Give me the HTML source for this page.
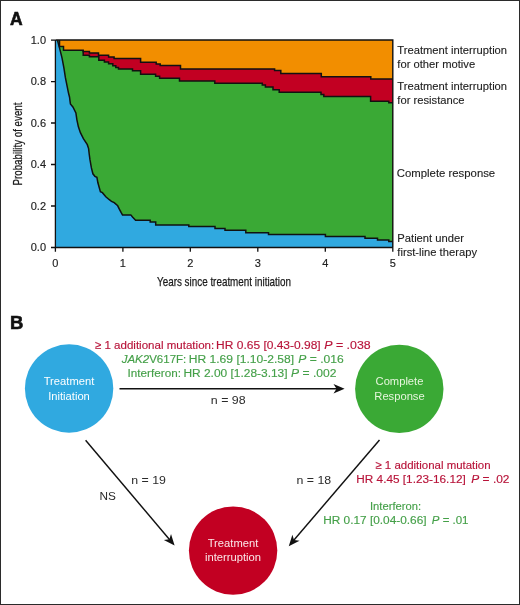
<!DOCTYPE html>
<html><head><meta charset="utf-8">
<style>
html,body{margin:0;padding:0;background:#fff;}
body{width:520px;height:605px;overflow:hidden;position:relative;}
svg{position:absolute;left:0;top:0;will-change:transform;}
text{font-family:"Liberation Sans",sans-serif;}
</style></head>
<body>
<svg width="520" height="605" viewBox="0 0 520 605">
<rect x="0.5" y="0.5" width="519" height="604" fill="#fff" stroke="#2b2b2b" stroke-width="1"/>

<!-- Panel A -->
<text x="10" y="24.5" font-size="17.5" font-weight="bold" fill="#111" stroke="#111" stroke-width="0.6">A</text>

<!-- plot fills -->
<g id="plot">
<rect x="55.4" y="40" width="337.4" height="207.5" fill="#f28e00"/>
<path fill="#c20022" d="M55.4,40 L59.5,40 L59.5,46.6 L63.5,46.6 L63.5,50.2 L83.2,50.2 L83.2,51.6 L89.4,51.6 L89.4,52.9 L98.5,52.9 L98.5,55.3 L108.6,55.3 L108.6,56.9 L114.1,56.9 L114.1,58.6 L140.6,58.6 L140.6,62.3 L156.2,62.3 L156.2,64.1 L160.2,64.1 L160.2,65.5 L180.5,65.5 L180.5,69 L274.6,69 L274.6,70.6 L280.8,70.6 L280.8,73.5 L321.3,73.5 L321.3,76.8 L370.8,76.8 L370.8,79 L392.8,79 L392.8,247.5 L55.4,247.5 Z"/>
<path fill="#3aa935" d="M55.4,40 L59.5,40 L59.5,46.6 L63.5,46.6 L63.5,50.2 L83.2,50.2 L83.2,55.2 L89.4,55.2 L89.4,56.7 L98.8,56.7 L98.8,60.3 L104.4,60.3 L104.4,62 L108.6,62 L108.6,63.7 L112.8,63.7 L112.8,65.8 L115.8,65.8 L115.8,67.5 L118.5,67.5 L118.5,69.1 L132.5,69.1 L132.5,70.7 L140.6,70.7 L140.6,74.3 L155.6,74.3 L155.6,76.2 L159.6,76.2 L159.6,78.2 L179.5,78.2 L179.5,81.1 L214.8,81.1 L214.8,83.2 L262.3,83.2 L262.3,85 L265.4,85 L265.4,86.9 L273,86.9 L273,89.7 L279.2,89.7 L279.2,92.3 L321,92.3 L321,94.5 L323.8,94.5 L323.8,96.5 L370.6,96.5 L370.6,101.2 L388.8,101.2 L388.8,102.7 L392.8,102.7 L392.8,247.5 L55.4,247.5 Z"/>
<path fill="#30a9e0" d="M55.4,40 L57.4,40 L59.5,47.9 L62,57.9 L63.9,67.8 L65.4,77.7 L67.4,87.7 L68.4,92.6 L69.5,97 L70.4,103.9 L72.9,106.9 L75.9,112.9 L76.9,119.8 L78.4,126.8 L80.4,132.7 L83.4,138.7 L87.3,144.7 L88.6,148.6 L89.2,154 L90,159.9 L91.4,167.9 L92.9,173.8 L94.9,176.3 L96.9,177.3 L97.9,182.8 L100.4,191.7 L102.4,192.7 L105.8,196.7 L109.3,199.7 L111.5,201.3 L114.2,202.7 L117.7,205.8 L119.2,208.8 L121.2,212.7 L122.5,214.9 L130.8,214.9 L132.5,217 L135.6,220.2 L150.2,220.2 L150.2,221.9 L155.7,221.9 L155.7,225 L188.8,225 L188.8,226.6 L215,226.6 L215,228.5 L225,228.5 L225,230.3 L245.8,230.3 L245.8,232.7 L268.5,232.7 L268.5,234.5 L325.4,234.5 L325.4,236.4 L365,236.4 L365,238.3 L377.5,238.3 L377.5,240.1 L388.8,240.1 L388.8,241.5 L392.8,241.5 L392.8,247.5 L55.4,247.5 Z"/>
</g>
<!-- boundary strokes -->
<g fill="none" stroke="#111" stroke-width="1.5" stroke-linejoin="miter">
<path d="M59.5,40 L59.5,46.6 L63.5,46.6 L63.5,50.2 L83.2,50.2 L83.2,51.6 L89.4,51.6 L89.4,52.9 L98.5,52.9 L98.5,55.3 L108.6,55.3 L108.6,56.9 L114.1,56.9 L114.1,58.6 L140.6,58.6 L140.6,62.3 L156.2,62.3 L156.2,64.1 L160.2,64.1 L160.2,65.5 L180.5,65.5 L180.5,69 L274.6,69 L274.6,70.6 L280.8,70.6 L280.8,73.5 L321.3,73.5 L321.3,76.8 L370.8,76.8 L370.8,79 L392.8,79"/>
<path d="M83.2,50.2 L83.2,55.2 L89.4,55.2 L89.4,56.7 L98.8,56.7 L98.8,60.3 L104.4,60.3 L104.4,62 L108.6,62 L108.6,63.7 L112.8,63.7 L112.8,65.8 L115.8,65.8 L115.8,67.5 L118.5,67.5 L118.5,69.1 L132.5,69.1 L132.5,70.7 L140.6,70.7 L140.6,74.3 L155.6,74.3 L155.6,76.2 L159.6,76.2 L159.6,78.2 L179.5,78.2 L179.5,81.1 L214.8,81.1 L214.8,83.2 L262.3,83.2 L262.3,85 L265.4,85 L265.4,86.9 L273,86.9 L273,89.7 L279.2,89.7 L279.2,92.3 L321,92.3 L321,94.5 L323.8,94.5 L323.8,96.5 L370.6,96.5 L370.6,101.2 L388.8,101.2 L388.8,102.7 L392.8,102.7"/>
<path d="M57.4,40 L59.5,47.9 L62,57.9 L63.9,67.8 L65.4,77.7 L67.4,87.7 L68.4,92.6 L69.5,97 L70.4,103.9 L72.9,106.9 L75.9,112.9 L76.9,119.8 L78.4,126.8 L80.4,132.7 L83.4,138.7 L87.3,144.7 L88.6,148.6 L89.2,154 L90,159.9 L91.4,167.9 L92.9,173.8 L94.9,176.3 L96.9,177.3 L97.9,182.8 L100.4,191.7 L102.4,192.7 L105.8,196.7 L109.3,199.7 L111.5,201.3 L114.2,202.7 L117.7,205.8 L119.2,208.8 L121.2,212.7 L122.5,214.9 L130.8,214.9 L132.5,217 L135.6,220.2 L150.2,220.2 L150.2,221.9 L155.7,221.9 L155.7,225 L188.8,225 L188.8,226.6 L215,226.6 L215,228.5 L225,228.5 L225,230.3 L245.8,230.3 L245.8,232.7 L268.5,232.7 L268.5,234.5 L325.4,234.5 L325.4,236.4 L365,236.4 L365,238.3 L377.5,238.3 L377.5,240.1 L388.8,240.1 L388.8,241.5 L392.8,241.5"/>
<path d="M55.3,40 L392.8,40 L392.8,247" stroke-width="1.4"/>
</g>
<!-- axes -->
<g stroke="#111" stroke-width="1.3" fill="none">
<path d="M55.4,40 L55.4,247.5 L392.8,247.5"/>
<path d="M51,40.1 H55 M51,81.6 H55 M51,123 H55 M51,164.5 H55 M51,206 H55 M51,247.5 H55"/>
<path d="M55.4,247 V251.8 M122.9,247 V251.8 M190.3,247 V251.8 M257.8,247 V251.8 M325.3,247 V251.8 M392.8,247 V251.8"/>
</g>
<g font-size="11" fill="#222" stroke="#222" stroke-width="0.15" text-anchor="end">
<text x="46" y="44">1.0</text>
<text x="46" y="85.4">0.8</text>
<text x="46" y="126.8">0.6</text>
<text x="46" y="168.2">0.4</text>
<text x="46" y="209.6">0.2</text>
<text x="46" y="251">0.0</text>
</g>
<g font-size="11" fill="#222" stroke="#222" stroke-width="0.15" text-anchor="middle">
<text x="55.4" y="267">0</text>
<text x="122.9" y="267">1</text>
<text x="190.3" y="267">2</text>
<text x="257.8" y="267">3</text>
<text x="325.3" y="267">4</text>
<text x="392.8" y="267">5</text>
</g>
<text x="224" y="286.2" font-size="13" fill="#1a1a1a" stroke="#1a1a1a" stroke-width="0.25" text-anchor="middle" textLength="134" lengthAdjust="spacingAndGlyphs">Years since treatment initiation</text>
<text transform="translate(22,144) rotate(-90)" font-size="13" fill="#1a1a1a" stroke="#1a1a1a" stroke-width="0.25" text-anchor="middle" textLength="83" lengthAdjust="spacingAndGlyphs">Probability of event</text>

<g font-size="11.6" fill="#222" stroke="#222" stroke-width="0.12">
<text x="397.3" y="53.6" textLength="109.8" lengthAdjust="spacingAndGlyphs">Treatment interruption</text>
<text x="397.3" y="67.6" textLength="77.9" lengthAdjust="spacingAndGlyphs">for other motive</text>
<text x="397.3" y="89.6" textLength="109.8" lengthAdjust="spacingAndGlyphs">Treatment interruption</text>
<text x="397.3" y="103.6" textLength="67.3" lengthAdjust="spacingAndGlyphs">for resistance</text>
<text x="396.8" y="177.3" textLength="98.4" lengthAdjust="spacingAndGlyphs">Complete response</text>
<text x="397.3" y="241.8" textLength="66.7" lengthAdjust="spacingAndGlyphs">Patient under</text>
<text x="397.3" y="255.8" textLength="79.7" lengthAdjust="spacingAndGlyphs">first-line therapy</text>
</g>

<!-- Panel B -->
<text x="10" y="328.6" font-size="18.5" font-weight="bold" fill="#111" stroke="#111" stroke-width="0.6">B</text>

<circle cx="69.1" cy="388.5" r="44.2" fill="#30a9e0"/>
<circle cx="399.3" cy="388.9" r="44.2" fill="#3aa935"/>
<circle cx="233.1" cy="550.6" r="44.2" fill="#c20022"/>

<g font-size="11.2" text-anchor="middle">
<text x="69" y="385.4" fill="#fff">Treatment</text>
<text x="69" y="399.7" fill="#fff">Initiation</text>
<text x="399.5" y="385.4" fill="#e6f6dc">Complete</text>
<text x="399.5" y="399.7" fill="#e6f6dc">Response</text>
<text x="233" y="547.4" fill="#fbe8ea">Treatment</text>
<text x="233" y="560.6" fill="#fbe8ea">interruption</text>
</g>

<!-- arrows -->
<g stroke="#111" stroke-width="1.45" fill="none">
<path d="M119.5,388.8 L337,388.8"/>
<path d="M85.6,440.2 L172,542.5"/>
<path d="M379.5,440 L291,543.5"/>
</g>
<g fill="#111">
<path transform="translate(344.6,388.8)" d="M0,0 L-11.1,-4.7 L-8.1,0 L-11.1,4.7 Z"/>
<path transform="translate(174.6,545.4) rotate(49.76)" d="M0,0 L-11.1,-4.7 L-8.1,0 L-11.1,4.7 Z"/>
<path transform="translate(288.75,546.25) rotate(130.5)" d="M0,0 L-11.1,-4.7 L-8.1,0 L-11.1,4.7 Z"/>
</g>

<g font-size="11.7" stroke-width="0.15">
<text x="94.9" y="348.6" fill="#b8143a" stroke="#b8143a" textLength="119.3" lengthAdjust="spacingAndGlyphs">≥ 1 additional mutation:</text>
<text x="216.1" y="348.6" fill="#b8143a" stroke="#b8143a" textLength="104.6" lengthAdjust="spacingAndGlyphs">HR 0.65 [0.43-0.98]</text>
<text x="324.3" y="348.6" fill="#b8143a" stroke="#b8143a" textLength="46.4" lengthAdjust="spacingAndGlyphs"><tspan font-style="italic">P</tspan> = .038</text>
<text x="121.7" y="363.1" fill="#45a049" stroke="#45a049" textLength="64.6" lengthAdjust="spacingAndGlyphs"><tspan font-style="italic">JAK2</tspan>V617F:</text>
<text x="188.7" y="363.1" fill="#45a049" stroke="#45a049" textLength="105.5" lengthAdjust="spacingAndGlyphs">HR 1.69 [1.10-2.58]</text>
<text x="298.3" y="363.1" fill="#45a049" stroke="#45a049" textLength="45.4" lengthAdjust="spacingAndGlyphs"><tspan font-style="italic">P</tspan> = .016</text>
<text x="127.6" y="377.1" fill="#45a049" stroke="#45a049" textLength="53.3" lengthAdjust="spacingAndGlyphs">Interferon:</text>
<text x="183.4" y="377.1" fill="#45a049" stroke="#45a049" textLength="104.2" lengthAdjust="spacingAndGlyphs">HR 2.00 [1.28-3.13]</text>
<text x="291.1" y="377.1" fill="#45a049" stroke="#45a049" textLength="45.4" lengthAdjust="spacingAndGlyphs"><tspan font-style="italic">P</tspan> = .002</text>
<text x="210.8" y="403.6" fill="#2a2a2a" textLength="34.8" lengthAdjust="spacingAndGlyphs">n = 98</text>
<text x="131.3" y="484.2" fill="#2a2a2a" textLength="34.7" lengthAdjust="spacingAndGlyphs">n = 19</text>
<text x="99.4" y="499.5" fill="#2a2a2a" textLength="16.4" lengthAdjust="spacingAndGlyphs">NS</text>
<text x="296.5" y="483.8" fill="#2a2a2a" textLength="34.75" lengthAdjust="spacingAndGlyphs">n = 18</text>
<text x="375.4" y="469" fill="#b8143a" stroke="#b8143a" textLength="115.2" lengthAdjust="spacingAndGlyphs">≥ 1 additional mutation</text>
<text x="356.3" y="482.6" fill="#b8143a" stroke="#b8143a" textLength="109.5" lengthAdjust="spacingAndGlyphs">HR 4.45 [1.23-16.12]</text>
<text x="471.3" y="482.6" fill="#b8143a" stroke="#b8143a" textLength="38.2" lengthAdjust="spacingAndGlyphs"><tspan font-style="italic">P</tspan> = .02</text>
<text x="370" y="509.7" fill="#45a049" stroke="#45a049" textLength="51" lengthAdjust="spacingAndGlyphs">Interferon:</text>
<text x="323.2" y="524.1" fill="#45a049" stroke="#45a049" textLength="103.4" lengthAdjust="spacingAndGlyphs">HR 0.17 [0.04-0.66]</text>
<text x="431.8" y="524.1" fill="#45a049" stroke="#45a049" textLength="36.7" lengthAdjust="spacingAndGlyphs"><tspan font-style="italic">P</tspan> = .01</text>
</g>
</svg>
</body></html>
